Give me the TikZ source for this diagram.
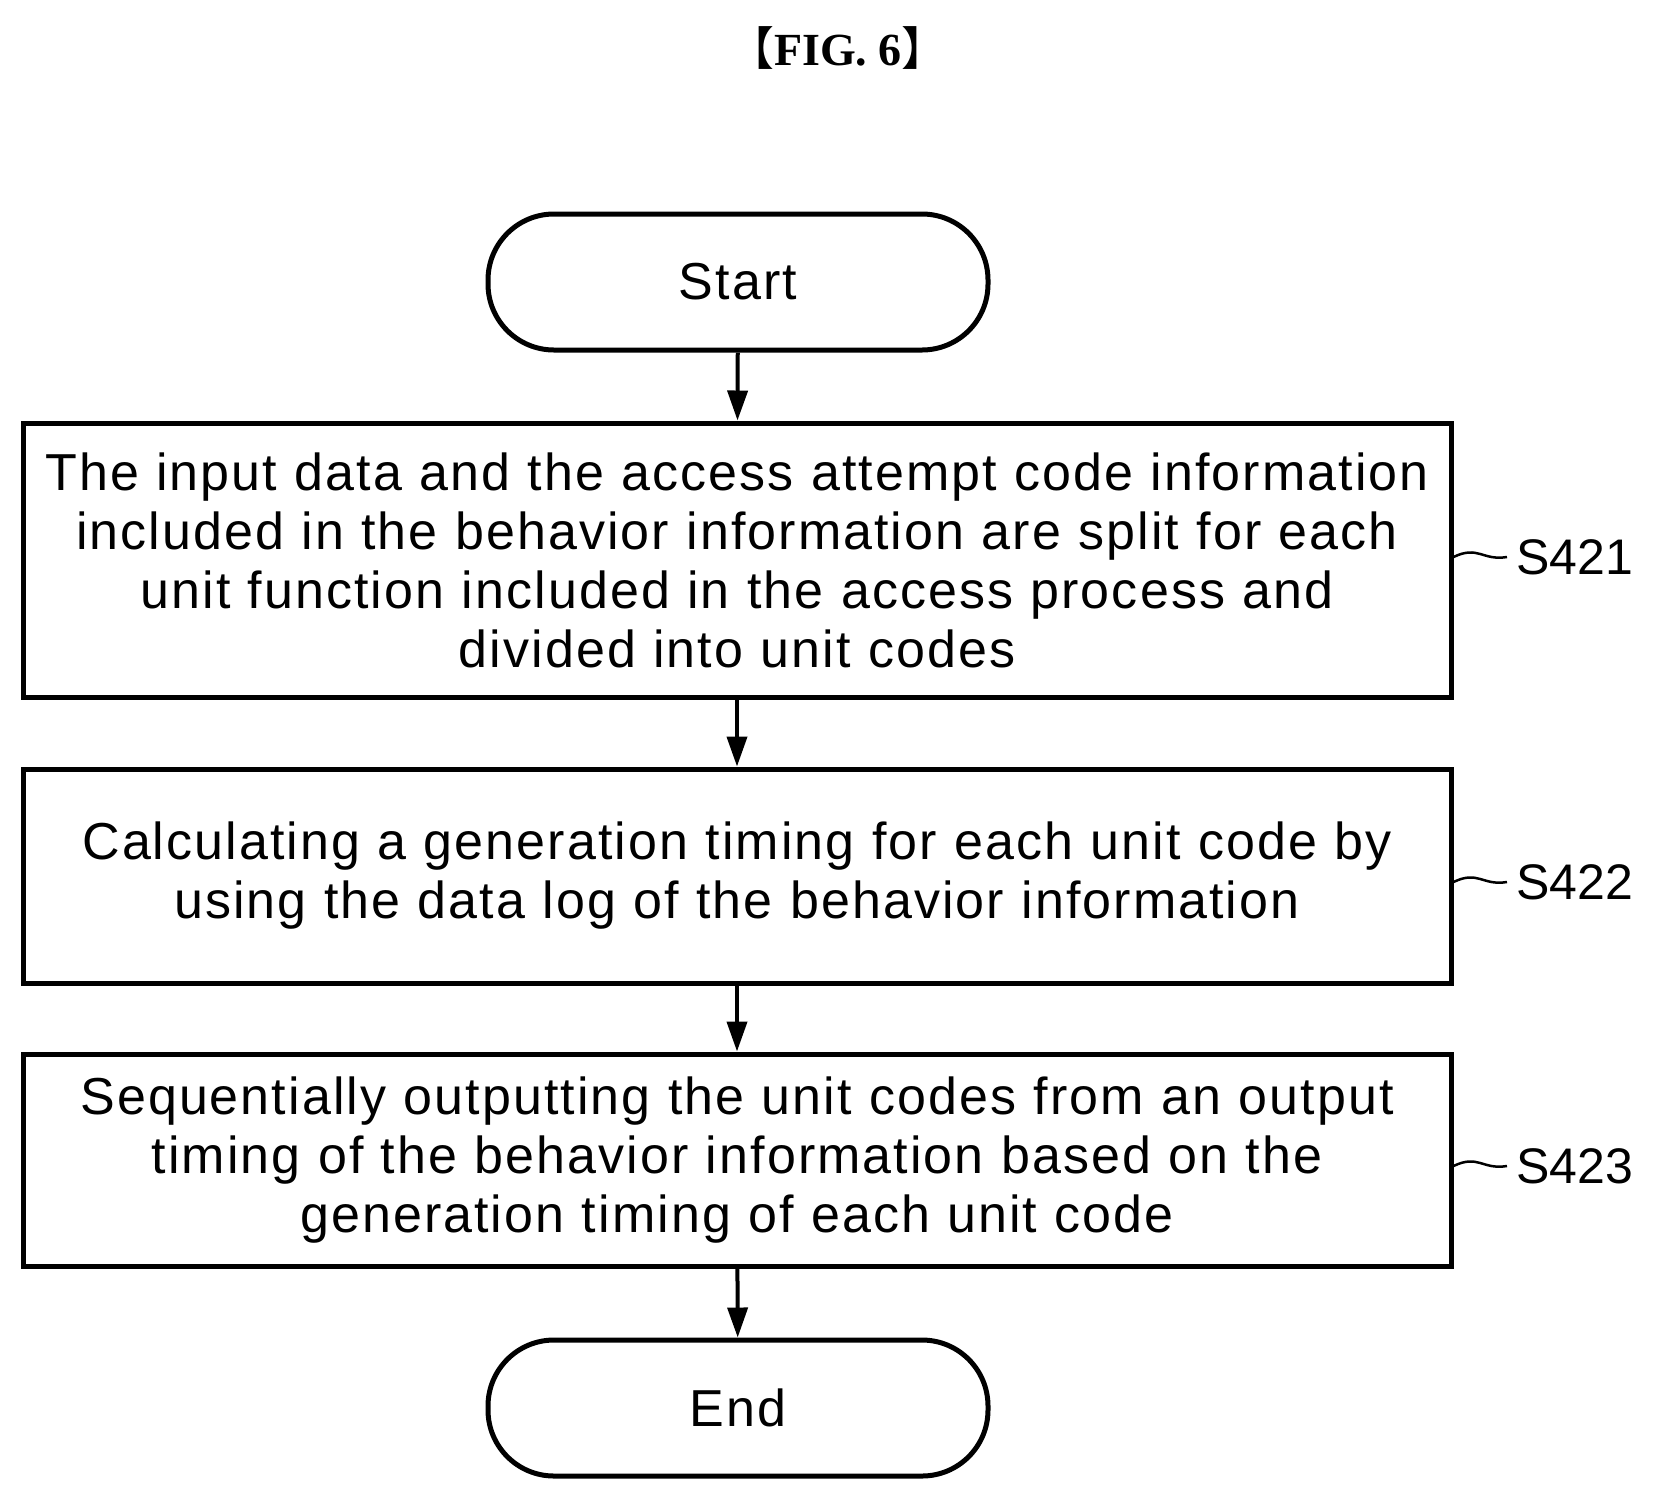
\documentclass[tikz,border=0pt]{standalone}
\usepackage{fontspec}
\setmainfont{Liberation Sans}[LetterSpace=4]
\newfontfamily\labfont{Liberation Sans}
\newfontfamily\serifb{Liberation Serif}
\newfontfamily\cjk{Noto Sans CJK SC}
\usetikzlibrary{arrows.meta}
\begin{document}
\begin{tikzpicture}[x=1pt,y=-1pt,
  box/.style={draw,line width=5pt,minimum width=1428pt,text width=1400pt,align=center,inner sep=0pt,font=\fontsize{52}{59}\selectfont},
  term/.style={draw,line width=5pt,rounded corners=66pt,minimum width=500pt,minimum height=136pt,font=\fontsize{52}{59}\selectfont},
  arr/.style={line width=4pt,-{Triangle[length=30pt,width=20pt]}},
  lab/.style={font=\labfont\fontsize{50}{56}\selectfont,anchor=west},
  tie/.style={line width=2.5pt}]
\useasboundingbox (0,0) rectangle (1653,1497);
\node[font=\fontsize{46}{50}\selectfont] (title) at (838,48) {{\cjk 【}{\serifb\bfseries FIG. 6}{\cjk 】}};
\node[term] (start) at (738,282) {Start};
\node[box,minimum height=274pt] (s1) at (737,560) {The input data and the access attempt code information\\included in the behavior information are split for each\\unit function included in the access process and\\divided into unit codes};
\node[box,minimum height=214pt] (s2) at (737,876) {Calculating a generation timing for each unit code by\\using the data log of the behavior information};
\node[box,minimum height=212pt] (s3) at (737,1160) {Sequentially outputting the unit codes from an output\\timing of the behavior information based on the\\generation timing of each unit code};
\node[term] (end) at (738,1408) {End};
\draw[arr] (start) -- (s1);
\draw[arr] (s1) -- (s2);
\draw[arr] (s2) -- (s3);
\draw[arr] (s3) -- (end);
\node[lab] (l1) at (1513,557) {S421};
\node[lab] (l2) at (1513,882) {S422};
\node[lab] (l3) at (1513,1166) {S423};
\foreach \b/\l in {s1/l1,s2/l2,s3/l3}{
  \draw[tie] (\b.east |- \l.west) .. controls +(25,-12) and +(-25,4) .. ([xshift=-6pt]\l.west);
}
\end{tikzpicture}
\end{document}
